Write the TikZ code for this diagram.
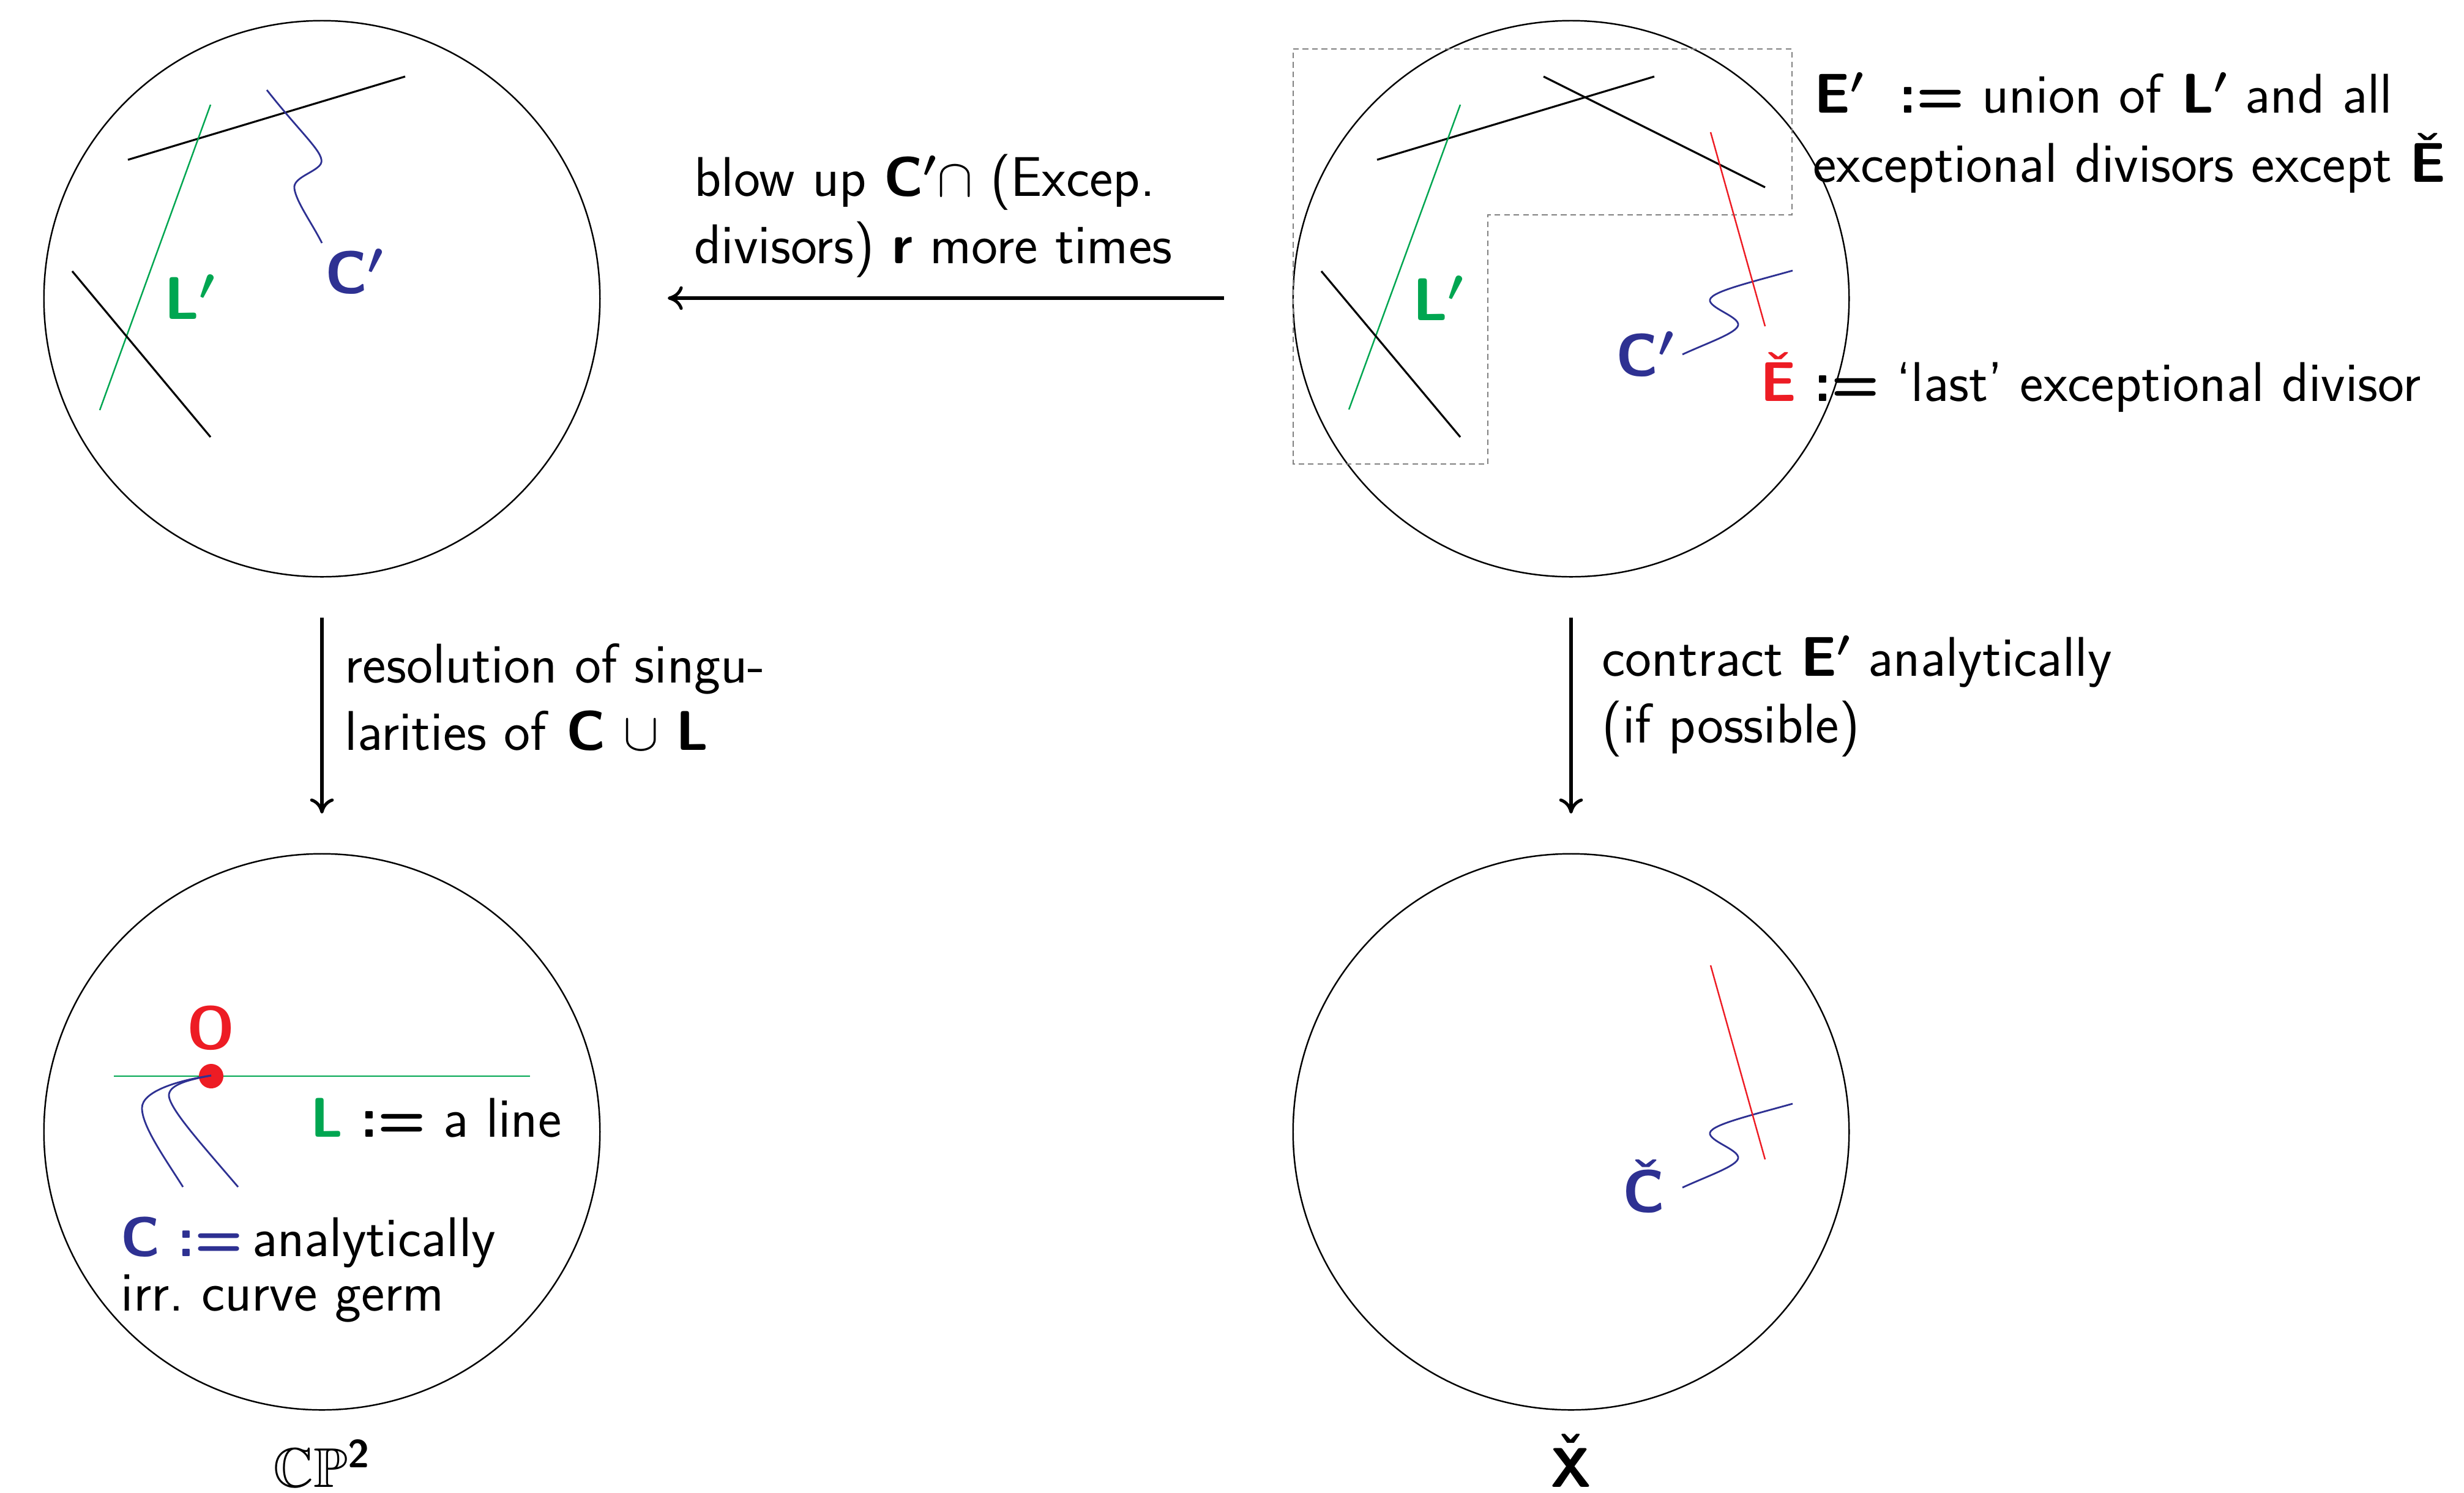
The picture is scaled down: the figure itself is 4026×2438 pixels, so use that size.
\documentclass[tikz,border=0pt]{standalone}
\usepackage{amssymb}
\usetikzlibrary{arrows.meta}
\definecolor{dred}{HTML}{ED1C24}
\definecolor{dgreen}{HTML}{00A651}
\definecolor{dblue}{HTML}{2E3192}
\definecolor{dgray}{HTML}{808080}
\newcommand\bp{{\boldmath$'$}}
\newcommand\Xcaron{\leavevmode\ooalign{\textbf{X}\cr\hidewidth\raisebox{0.25em}{\textbf{\char"02C7}}\hidewidth\cr}}
\begin{document}
\begin{tikzpicture}[x=0.01cm,y=-0.01cm,
  disc/.style={circle,draw,line width=0.7pt,minimum size=9.08cm,inner sep=0pt},
  blk/.style={line width=0.9pt},
  grn/.style={dgreen,line width=0.7pt},
  rd/.style={dred,line width=0.7pt},
  blu/.style={dblue,line width=0.8pt},
  dsh/.style={dgray,line width=0.5pt,dash pattern=on 2.6pt off 1.8pt},
  txt/.style={font=\sffamily\fontsize{26pt}{31pt}\selectfont,inner sep=0pt,anchor=base west},
  lbl/.style={font=\sffamily\bfseries\fontsize{28pt}{33pt}\selectfont,inner sep=0pt,anchor=base west},
  arr/.style={line width=1.45pt,-{To[length=7pt,width=11pt]}},
  scurve/.pic={\draw[blu] (2929,442) .. controls (2850,464) and (2790,478) .. (2794,492)
      .. controls (2798,505) and (2842,518) .. (2840,531)
      .. controls (2838,544) and (2790,560) .. (2749,579);
    \draw[rd] (2795,216) -- (2884,533);}
]
\useasboundingbox (0,0) rectangle (4026,2438);

% circles
\node[disc] (P1) at (526,488) {};
\node[disc] (P2) at (2567,488) {};
\node[disc] (P3) at (526,1849) {};
\node[disc] (P4) at (2567,1849) {};

% ---- top left panel
\draw[blk] (209,261) -- (662,125);
\draw[grn] (344,171) -- (163,670);
\draw[blk] (118,443) -- (344,714);
\draw[blu] (436,147) .. controls (495,222) and (533,252) .. (524,268)
  .. controls (515,282) and (478,290) .. (481,308)
  .. controls (484,330) and (510,365) .. (526,397);
\node[lbl,dgreen] (tlL) at (268,521) {L\bp};
\node[lbl,dblue] (tlC) at (531,479) {C\bp};

% ---- top right panel
\draw[dsh] (2113,80) -- (2928,80) -- (2928,351) -- (2431,351) -- (2431,758) -- (2113,758) -- cycle;
\draw[blk] (2250,261) -- (2703,125);
\draw[blk] (2522,125) -- (2884,306);
\draw[grn] (2386,171) -- (2204,669);
\draw[blk] (2159,443) -- (2386,714);
\pic at (0,0) {scurve};
\node[lbl,dgreen] (trL) at (2308,523) {L\bp};
\node[lbl,dblue] (trC) at (2640,614) {C\bp};
\node[txt] (trE) at (2876,655) {\textcolor{dred}{\textbf{\v{E}}} \textbf{:=} `last' exceptional divisor};
\node[txt] (e1) at (2964,184) {\textbf{E}\bp\ \ \textbf{:=} union of \textbf{L}\bp\ and all};
\node[txt] (e2) at (2962,297) {exceptional divisors except \textbf{\v{E}}};

% ---- bottom left panel
\draw[grn] (186,1758) -- (866,1758);
\fill[dred] (345,1758) circle[radius=0.2cm];
\draw[blu] (345,1757) .. controls (290,1765) and (232,1783) .. (232,1810)
  .. controls (232,1840) and (270,1893) .. (299,1939);
\draw[blu] (345,1757) .. controls (300,1765) and (270,1775) .. (277,1795)
  .. controls (285,1820) and (330,1870) .. (389,1939);
\node[lbl,dred,anchor=base] (O) at (345,1713) {O};
\node[txt] (Ldef) at (507,1857) {\textcolor{dgreen}{\textbf{L}}\ \textbf{:=} a line};
\node[txt] (Cdef) at (197,2052) {\textcolor{dblue}{\textbf{C}\ \textbf{:=}}\,analytically};
\node[txt] (Cdef2) at (197,2141) {irr.\ curve germ};
\node[txt,anchor=base] (cp) at (526,2429) {$\mathbb{CP}$\textsuperscript{\textbf{2}}};

% ---- bottom right panel
\pic at (0,1361) {scurve};
\node[lbl,dblue] (Cv) at (2651,1980) {\v{C}};
\node[txt,anchor=base] (Xv) at (2567,2429) {\Xcaron};

% ---- arrows
\coordinate (hA) at (2000,487);
\coordinate (hB) at (1091,487);
\draw[arr] (hA) -- (hB);
\node[txt] (b1) at (1134,320) {blow up \textbf{C}\bp$\cap$ (Excep.};
\node[txt] (b2) at (1134,430) {divisors) \textbf{r} more times};

\coordinate (vLa) at (526,1009);
\coordinate (vLb) at (526,1329);
\draw[arr] (vLa) -- (vLb);
\node[txt] (r1) at (563,1115) {resolution of singu-};
\node[txt] (r2) at (563,1225) {larities of \textbf{C} $\cup$ \textbf{L}};

\coordinate (vRa) at (2567,1009);
\coordinate (vRb) at (2567,1329);
\draw[arr] (vRa) -- (vRb);
\node[txt] (c1) at (2617,1104) {contract \textbf{E}\bp\ analytically};
\node[txt] (c2) at (2617,1213) {(if possible)};
\end{tikzpicture}
\end{document}
